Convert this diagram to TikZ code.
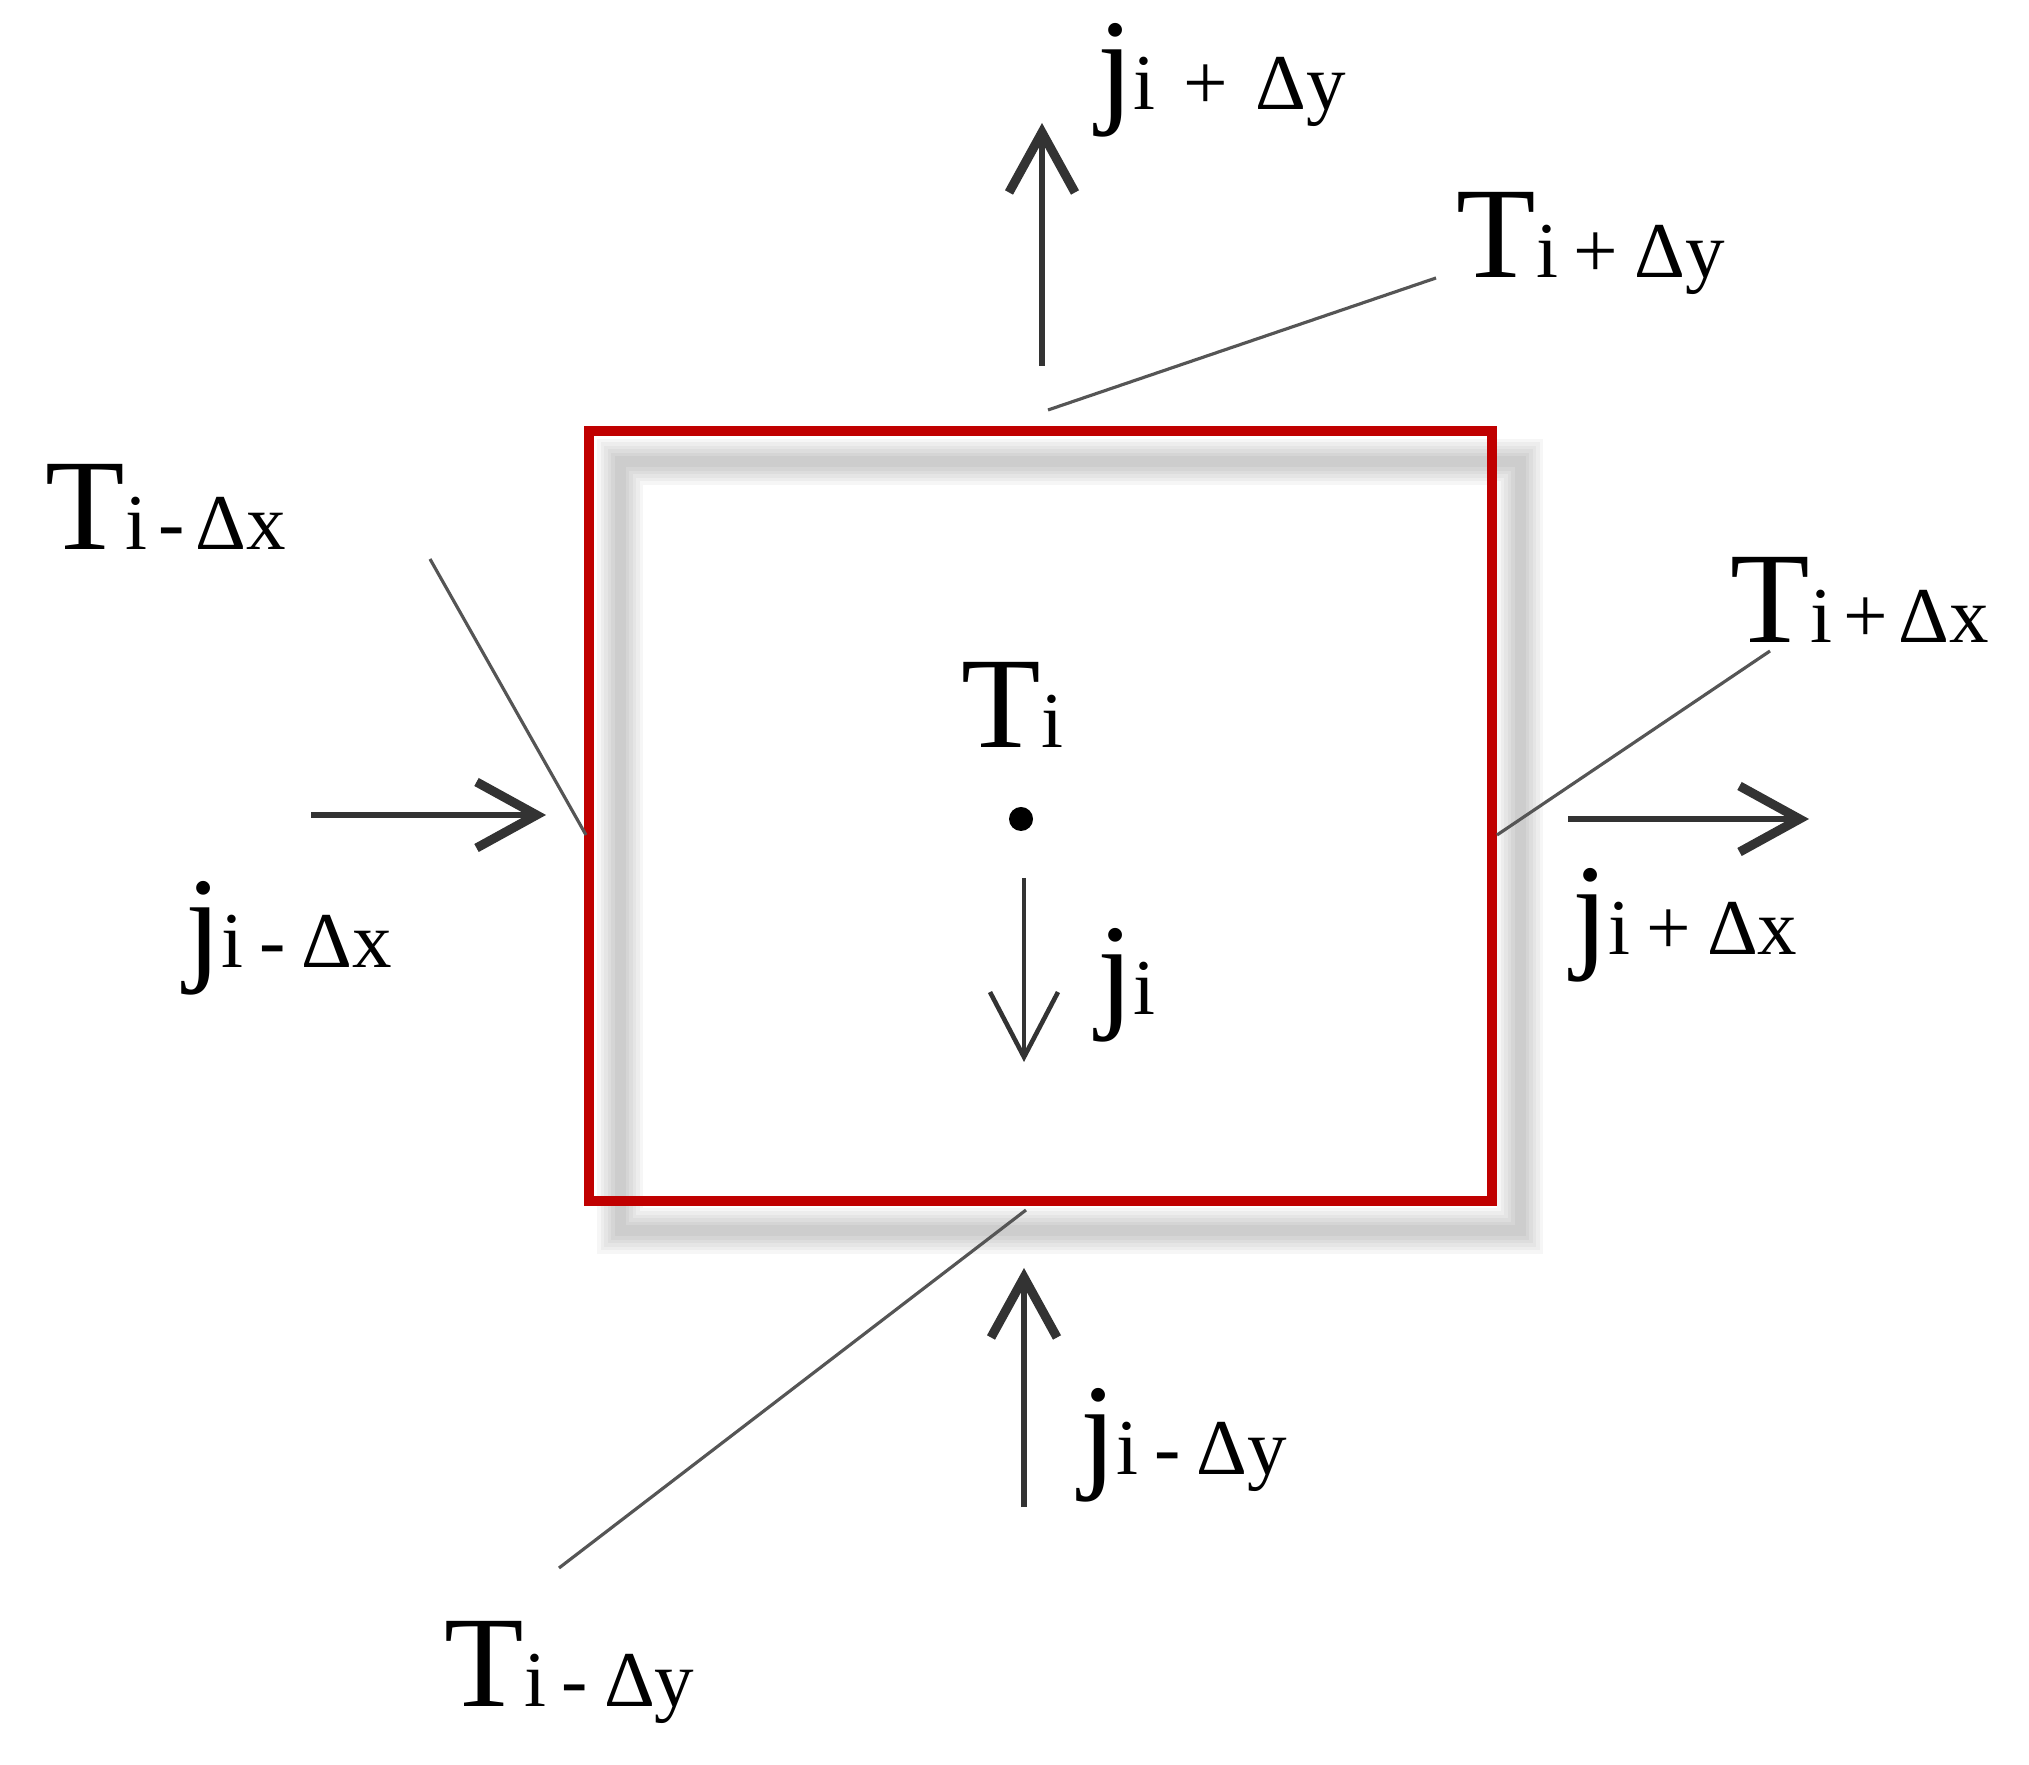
\documentclass[tikz,border=0pt]{standalone}
\usepackage{fontspec}
\setmainfont{Liberation Serif}
\usetikzlibrary{arrows.meta}

\definecolor{cellred}{RGB}{192,0,0}
\definecolor{fluxgray}{RGB}{51,51,51}
\definecolor{leadgray}{RGB}{85,85,85}
\newcommand{\qty}[2]{{\fontsize{37}{40}\selectfont #1}{\fontsize{22.5}{25}\selectfont #2}}
\newcommand{\gap}{\hspace{0.2em}}

\begin{document}
\begin{tikzpicture}[
    cell/.style={draw=cellred, line width=2.6pt, minimum width=9.03cm, minimum height=7.70cm, inner sep=0pt},
    flux/.style={fluxgray, line width=1.8pt, -{Straight Barb[length=6mm,width=6.6mm,line width=2.6pt]}},
    thinflux/.style={fluxgray, line width=1.3pt, -{Straight Barb[length=6.5mm,width=6.8mm]}},
    leader/.style={leadgray, line width=0.9pt},
    lbl/.style={anchor=base west, inner sep=0pt}]

  \useasboundingbox (0,0) rectangle (20.29,-17.65);

  % soft shadow of the cell
  \foreach \w in {0.46,0.39,0.32,0.25,0.18,0.11}
    \draw[black, opacity=0.035, line width=\w cm] (6.20,-4.62) rectangle (15.20,-12.31);

  \node[cell] (cell) at (10.405,-8.16) {};
  \node[circle, fill, inner sep=0pt, minimum size=0.24cm] (dot) at (10.21,-8.19) {};

  % labels
  \node[lbl] (Ti)  at (9.61,-7.48)   {\qty{T}{i}};
  \node[lbl] (ji)  at (10.97,-10.15) {\qty{j}{i}};
  \node[lbl] (Tmx) at (0.45,-5.50)   {\qty{T}{i\hspace{0.14em}-\hspace{0.14em}Δx}};
  \node[lbl] (jmx) at (1.85,-9.68)   {\qty{j}{i\gap-\gap Δx}};
  \node[lbl] (jpy) at (10.97,-1.10)  {\qty{j}{i\hspace{0.35em}+\hspace{0.35em}Δy}};
  \node[lbl] (Tpy) at (14.56,-2.78)  {\qty{T}{i\gap+\gap Δy}};
  \node[lbl] (Tpx) at (17.30,-6.43)  {\qty{T}{i\hspace{0.14em}+\hspace{0.14em}Δx}};
  \node[lbl] (jpx) at (15.72,-9.55)  {\qty{j}{i\gap+\gap Δx}};
  \node[lbl] (jmy) at (10.80,-14.75) {\qty{j}{i\gap-\gap Δy}};
  \node[lbl] (Tmy) at (4.44,-17.06)  {\qty{T}{i\gap-\gap Δy}};

  % leader lines
  \coordinate (mxa) at (5.86,-8.35);   \coordinate (mxb) at (4.30,-5.59);
  \coordinate (pya) at (10.48,-4.10);  \coordinate (pyb) at (14.36,-2.78);
  \coordinate (pxa) at (14.97,-8.35);  \coordinate (pxb) at (17.70,-6.51);
  \coordinate (mya) at (10.26,-12.10); \coordinate (myb) at (5.59,-15.68);
  \draw[leader] (mxa) -- (mxb);
  \draw[leader] (pya) -- (pyb);
  \draw[leader] (pxa) -- (pxb);
  \draw[leader] (mya) -- (myb);

  % fluxes
  \coordinate (inx)  at (3.11,-8.15);   \coordinate (inxt)  at (5.46,-8.15);
  \coordinate (outy) at (10.42,-3.66);  \coordinate (outyt) at (10.42,-1.23);
  \coordinate (outx) at (15.68,-8.19);  \coordinate (outxt) at (18.09,-8.19);
  \coordinate (iny)  at (10.24,-15.07); \coordinate (inyt)  at (10.24,-12.68);
  \coordinate (src)  at (10.24,-8.78);  \coordinate (srct)  at (10.24,-10.62);
  \draw[flux] (inx) -- (inxt);
  \draw[flux] (outy) -- (outyt);
  \draw[flux] (outx) -- (outxt);
  \draw[flux] (iny) -- (inyt);
  \draw[thinflux] (src) -- (srct);
\end{tikzpicture}
\end{document}
